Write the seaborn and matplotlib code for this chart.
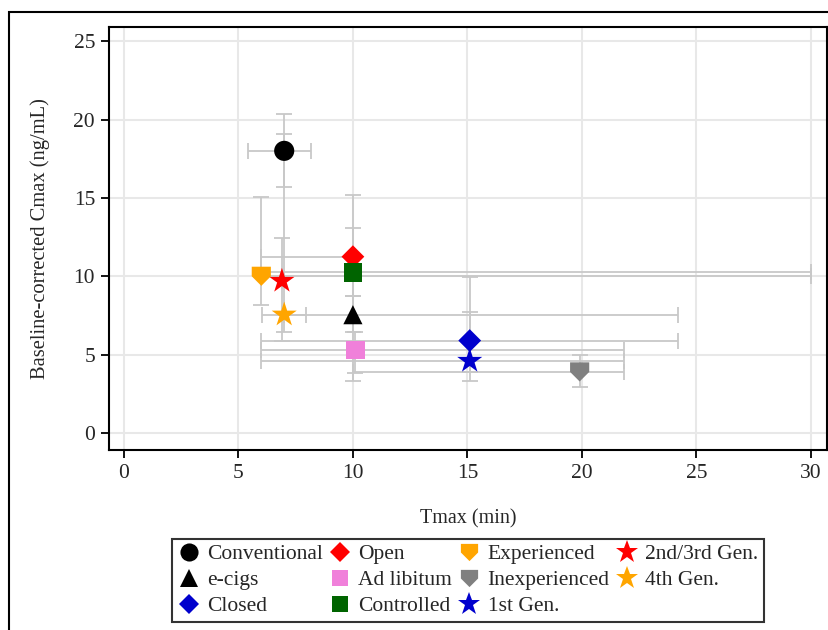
import numpy as np
import pandas as pd
import seaborn as sns
import matplotlib.pyplot as plt
from matplotlib.patches import Rectangle

# values
groups = ['Conventional', 'e-cigs', 'Closed', 'Open', 'Ad libitum', 'Controlled',
          'Experienced', 'Inexperienced', '1st Gen.', '2nd/3rd Gen.', '4th Gen.']
tmax = [7, 10, 15.1, 10, 10.1, 10, 6, 19.9, 15.1, 6.9, 7]
tmax_lo = [5.4, 7, 6, 6, 6, 6, 6, 10, 6, 6.9, 6.05]
tmax_hi = [8.15, 24.2, 24.2, 10, 21.85, 30, 30, 21.85, 21.85, 6.9, 7.95]
cmax = [18, 7.55, 5.9, 11.25, 5.3, 10.25, 10, 3.9, 4.6, 9.7, 7.55]
cmax_lo = [15.7, 6.45, 3.9, 8.75, 3.85, 3.35, 8.15, 2.95, 3.35, 5.9, 6.45]
cmax_hi = [20.35, 8.75, 7.75, 13.05, 6.45, 15.2, 15.05, 4.95, 9.95, 12.45, 19.1]

colors = ['black', 'black', '#0000CD', '#FF0000', '#F080DA', '#006400',
          '#FFA500', '#808080', '#0000CD', '#FF0000', '#FFA500']
shield = [(-1, 1), (1, 1), (1, 0), (0, -1), (-1, 0), (-1, 1)]
markers = ['o', '^', 'D', 'D', 's', 's', shield, shield, '*', '*', '*']
marker_area = [210, 190, 135, 135, 180, 180, 190, 190, 360, 360, 360]

df = pd.DataFrame({'group': groups, 'tmax': tmax, 'cmax': cmax,
                   'tlo': tmax_lo, 'thi': tmax_hi, 'clo': cmax_lo, 'chi': cmax_hi})

sns.set_style('white')
plt.rcParams['font.family'] = ['Liberation Serif', 'DejaVu Serif']

fig = plt.figure(figsize=(8.29, 6.3), dpi=100)
ax = fig.add_axes([109 / 829, 1 - 450 / 630, (827 - 109) / 829, (450 - 27) / 630])

ax.grid(True, color='#E8E8E8', linewidth=1.5)
ax.set_axisbelow(True)

ax.errorbar(df['tmax'], df['cmax'],
            xerr=[df['tmax'] - df['tlo'], df['thi'] - df['tmax']],
            yerr=[df['cmax'] - df['clo'], df['chi'] - df['cmax']],
            fmt='none', ecolor='#C8C8C8', elinewidth=1.3, capsize=6, capthick=1.3,
            zorder=2)

sns.scatterplot(data=df, x='tmax', y='cmax', hue='group', style='group', size='group',
                palette=dict(zip(groups, colors)), markers=dict(zip(groups, markers)),
                sizes=dict(zip(groups, marker_area)), linewidth=0, ax=ax, zorder=3)

ax.set_xlim(-0.65, 30.7)
ax.set_ylim(-1.08, 25.9)
ax.set_xticks(range(0, 31, 5))
ax.set_yticks(range(0, 26, 5))
ax.tick_params(axis='both', direction='out', length=6, width=1.3, color='black',
               labelsize=15.5, left=True, bottom=True, pad=4)
for s in ax.spines.values():
    s.set_color('black')
    s.set_linewidth(1.5)
ax.set_xlabel('Tmax (min)', fontsize=14.5, labelpad=19)
ax.set_ylabel('Baseline-corrected Cmax (ng/mL)', fontsize=14.8, labelpad=17)

sns.move_legend(ax, 'upper center', bbox_to_anchor=(468 / 829, 1 - 539 / 630),
                bbox_transform=fig.transFigure, ncol=4, title=None, frameon=True,
                fancybox=False, fontsize=15.5, handletextpad=0.35, columnspacing=0.3,
                labelspacing=0.27, borderpad=0.25, handlelength=1.0, markerscale=0.9,
                borderaxespad=0)
leg = ax.get_legend()
leg.get_frame().set_edgecolor('black')
leg.get_frame().set_linewidth(1.5)

fig.patches.append(Rectangle((9 / 829, -0.1), 1.2, 1 - 12 / 630 + 0.1, fill=False,
                             edgecolor='black', linewidth=1.5, transform=fig.transFigure))

fig.savefig('out.png', dpi=100)
